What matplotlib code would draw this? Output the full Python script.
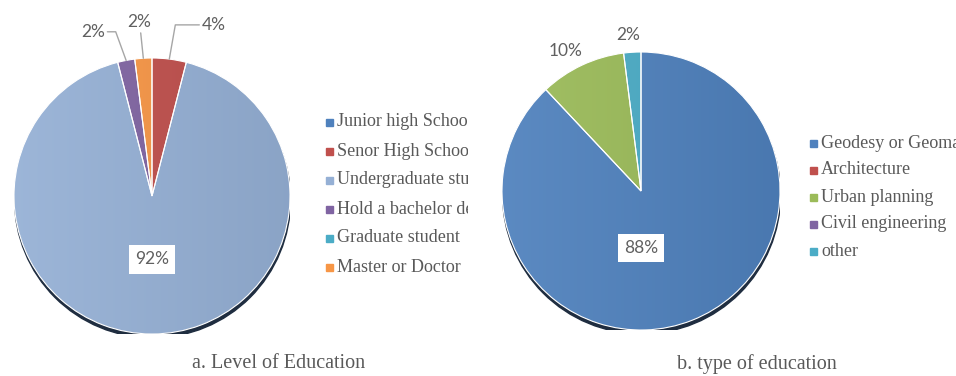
import numpy as np
import matplotlib
matplotlib.use("Agg")
import matplotlib.pyplot as plt
from matplotlib.colors import to_rgb
from matplotlib.patches import Circle, Rectangle

# level of education (%)
edu_labels = ["Junior high School", "Senor High School", "Undergraduate student",
              "Hold a bachelor degree", "Graduate student", "Master or Doctor"]
edu_values = [0, 4, 92, 2, 0, 2]
edu_colors = ["#4F81BD", "#C0504D", "#95B0D5", "#8064A2", "#4BACC6", "#F79646"]

# type of education (%)
type_labels = ["Geodesy or Geomatics", "Architecture", "Urban planning",
               "Civil engineering", "other"]
type_values = [88, 0, 10, 0, 2]
type_colors = ["#4F81BD", "#C0504D", "#9BBB59", "#8064A2", "#4BACC6"]

W, H = 956, 376
GRAY = "#595959"
SERIF = "Liberation Serif"
PCT_FONT = "Lato"

fig = plt.figure(figsize=(W / 100, H / 100), dpi=100)
fig.patch.set_facecolor("white")


def px_axes(x0, y0, x1, y1):
    ax = fig.add_axes([x0 / W, 1 - y1 / H, (x1 - x0) / W, (y1 - y0) / H])
    return ax


def shade(c, f):
    r = np.array(to_rgb(c))
    if f > 0:
        return r + (1 - r) * f
    return r * (1 + f)


def draw_pie(cx, cy, r, values, colors):
    ax = px_axes(cx - r, cy - r, cx + r, cy + r)
    # drop shadow under the pie
    ax.add_patch(Circle((0.004, -0.028), 1.0, color="#1f2d40", zorder=0))
    wedges, _ = ax.pie(values, colors=colors, startangle=90, counterclock=False,
                       wedgeprops=dict(edgecolor="white", linewidth=0.8))
    xs = np.linspace(0, 1, 200)
    for w, c in zip(wedges, colors):
        if w.theta2 - w.theta1 <= 0:
            continue
        grad = np.array([shade(c, 0.07) * (1 - t) + shade(c, -0.07) * t for t in xs])[None, :, :]
        im = ax.imshow(grad, extent=(-1, 1, -1, 1), aspect="auto", zorder=1,
                       interpolation="bilinear")
        im.set_clip_path(w)
        w.set_facecolor("none")
        w.set_zorder(2)
    ax.set_xlim(-1, 1)
    ax.set_ylim(-1, 1)
    ax.set_aspect("auto")
    ax.axis("off")
    return ax, wedges


def pct_label(ax, w, val, text_xy, leader=None, boxed=False):
    txt = f"{val}%"
    kw = dict(fontsize=12.5, color="#606060", family=PCT_FONT,
              ha="center", va="center", zorder=5)
    if boxed:
        kw["bbox"] = dict(boxstyle="square,pad=0.35", fc="white", ec="none")
    if leader is None:
        ax.text(*text_xy, txt, **kw)
    else:
        mid = np.deg2rad((w.theta1 + w.theta2) / 2)
        ax.annotate(txt, xy=(np.cos(mid), np.sin(mid)), xytext=text_xy,
                    arrowprops=dict(arrowstyle="-", color="#a6a6a6", lw=1,
                                    shrinkA=0, shrinkB=0, connectionstyle=leader),
                    annotation_clip=False, **kw)


def draw_legend(x0, x1, y_top, step, labels, colors):
    ax = px_axes(x0, y_top - 15, x1, y_top + step * len(labels))
    ax.set_xlim(x0, x1)
    ax.set_ylim(y_top + step * len(labels), y_top - 15)
    ax.axis("off")
    for i, (lab, c) in enumerate(zip(labels, colors)):
        y = y_top + i * step
        ax.add_patch(Rectangle((x0 + 1, y - 3.5), 7, 7, color=c))
        ax.text(x0 + 12, y, lab, fontsize=13, color=GRAY, family=SERIF,
                va="center", ha="left", clip_on=True)


# a. level of education
ax_a, w_a = draw_pie(152, 196, 138, edu_values, edu_colors)
pct_label(ax_a, w_a[2], edu_values[2], (0, -0.46), boxed=True)
pct_label(ax_a, w_a[1], edu_values[1], (0.45, 1.24), leader="angle,angleA=0,angleB=80,rad=0")
pct_label(ax_a, w_a[5], edu_values[5], (-0.09, 1.26), leader="arc3,rad=0")
pct_label(ax_a, w_a[3], edu_values[3], (-0.43, 1.19), leader="angle,angleA=0,angleB=110,rad=0")
draw_legend(325, 468, 122, 29, edu_labels, edu_colors)

# b. type of education
ax_b, w_b = draw_pie(641, 191, 139, type_values, type_colors)
pct_label(ax_b, w_b[0], type_values[0], (0, -0.41), boxed=True)
pct_label(ax_b, w_b[2], type_values[2], (-0.54, 1.01))
pct_label(ax_b, w_b[4], type_values[4], (-0.09, 1.12))
draw_legend(809, 956, 143, 27, type_labels, type_colors)

fig.text(279 / W, 1 - 364 / H, "a. Level of Education", fontsize=14.5, color=GRAY,
         family=SERIF, ha="center", va="center")
fig.text(757 / W, 1 - 364 / H, "b. type of education", fontsize=14.5, color=GRAY,
         family=SERIF, ha="center", va="center")

fig.savefig("out.png", dpi=100)
